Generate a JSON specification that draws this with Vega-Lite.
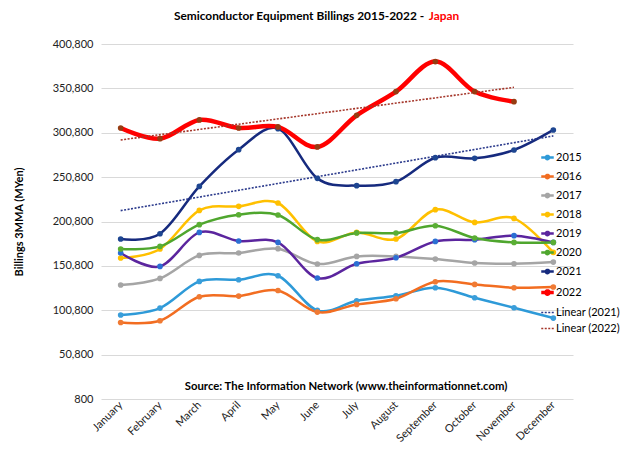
{
  "$schema": "https://vega.github.io/schema/vega-lite/v6.json",
  "width": 472,
  "height": 355,
  "autosize": "none",
  "padding": {"left": 101, "top": 44, "right": 67, "bottom": 65},
  "background": "white",
  "config": {"font": "Lato", "view": {"stroke": null}},
  "title": {
    "text": "Semiconductor Equipment Billings 2015-2022 -",
    "subtitle": "Japan",
    "anchor": "middle",
    "frame": "group",
    "fontSize": 11.9,
    "fontWeight": "bold",
    "color": "black",
    "subtitleFontSize": 11.9,
    "subtitleFontWeight": "bold",
    "subtitleColor": "#FF0000",
    "subtitlePadding": -11.9,
    "offset": 15,
    "encode": {
      "title": {"update": {"dx": {"value": -38}}},
      "subtitle": {"update": {"dx": {"value": 107}}}
    }
  },
  "data": {
    "values": [
      {"year": "2015", "m": 1, "value": 95400}, {"year": "2015", "m": 2, "value": 103250}, {"year": "2015", "m": 3, "value": 133300}, {"year": "2015", "m": 4, "value": 135200}, {"year": "2015", "m": 5, "value": 139700}, {"year": "2015", "m": 6, "value": 100600}, {"year": "2015", "m": 7, "value": 111500}, {"year": "2015", "m": 8, "value": 117150}, {"year": "2015", "m": 9, "value": 126150}, {"year": "2015", "m": 10, "value": 114900}, {"year": "2015", "m": 11, "value": 103600}, {"year": "2015", "m": 12, "value": 92000},
      {"year": "2016", "m": 1, "value": 87050}, {"year": "2016", "m": 2, "value": 88950}, {"year": "2016", "m": 3, "value": 116000}, {"year": "2016", "m": 4, "value": 116800}, {"year": "2016", "m": 5, "value": 123100}, {"year": "2016", "m": 6, "value": 98750}, {"year": "2016", "m": 7, "value": 107350}, {"year": "2016", "m": 8, "value": 113750}, {"year": "2016", "m": 9, "value": 132950}, {"year": "2016", "m": 10, "value": 129900}, {"year": "2016", "m": 11, "value": 126150}, {"year": "2016", "m": 12, "value": 126950},
      {"year": "2017", "m": 1, "value": 129200}, {"year": "2017", "m": 2, "value": 136650}, {"year": "2017", "m": 3, "value": 162600}, {"year": "2017", "m": 4, "value": 165300}, {"year": "2017", "m": 5, "value": 170150}, {"year": "2017", "m": 6, "value": 152900}, {"year": "2017", "m": 7, "value": 161450}, {"year": "2017", "m": 8, "value": 161450}, {"year": "2017", "m": 9, "value": 158500}, {"year": "2017", "m": 10, "value": 154000}, {"year": "2017", "m": 11, "value": 153200}, {"year": "2017", "m": 12, "value": 155100},
      {"year": "2018", "m": 1, "value": 159650}, {"year": "2018", "m": 2, "value": 169800}, {"year": "2018", "m": 3, "value": 213300}, {"year": "2018", "m": 4, "value": 217850}, {"year": "2018", "m": 5, "value": 221650}, {"year": "2018", "m": 6, "value": 178350}, {"year": "2018", "m": 7, "value": 188500}, {"year": "2018", "m": 8, "value": 181050}, {"year": "2018", "m": 9, "value": 214100}, {"year": "2018", "m": 10, "value": 199800}, {"year": "2018", "m": 11, "value": 204300}, {"year": "2018", "m": 12, "value": 165950},
      {"year": "2019", "m": 1, "value": 165300}, {"year": "2019", "m": 2, "value": 150200}, {"year": "2019", "m": 3, "value": 188500}, {"year": "2019", "m": 4, "value": 178800}, {"year": "2019", "m": 5, "value": 177250}, {"year": "2019", "m": 6, "value": 137100}, {"year": "2019", "m": 7, "value": 153200}, {"year": "2019", "m": 8, "value": 160000}, {"year": "2019", "m": 9, "value": 178350}, {"year": "2019", "m": 10, "value": 180300}, {"year": "2019", "m": 11, "value": 184800}, {"year": "2019", "m": 12, "value": 177250},
      {"year": "2020", "m": 1, "value": 169800}, {"year": "2020", "m": 2, "value": 172750}, {"year": "2020", "m": 3, "value": 197200}, {"year": "2020", "m": 4, "value": 208450}, {"year": "2020", "m": 5, "value": 208100}, {"year": "2020", "m": 6, "value": 180300}, {"year": "2020", "m": 7, "value": 187900}, {"year": "2020", "m": 8, "value": 187800}, {"year": "2020", "m": 9, "value": 196050}, {"year": "2020", "m": 10, "value": 182200}, {"year": "2020", "m": 11, "value": 177250}, {"year": "2020", "m": 12, "value": 177250},
      {"year": "2021", "m": 1, "value": 181050}, {"year": "2021", "m": 2, "value": 187050}, {"year": "2021", "m": 3, "value": 240350}, {"year": "2021", "m": 4, "value": 281750}, {"year": "2021", "m": 5, "value": 305400}, {"year": "2021", "m": 6, "value": 249400}, {"year": "2021", "m": 7, "value": 241150}, {"year": "2021", "m": 8, "value": 245650}, {"year": "2021", "m": 9, "value": 272700}, {"year": "2021", "m": 10, "value": 271950}, {"year": "2021", "m": 11, "value": 281400}, {"year": "2021", "m": 12, "value": 303950},
      {"year": "2022", "m": 1, "value": 306200}, {"year": "2022", "m": 2, "value": 294150}, {"year": "2022", "m": 3, "value": 315250}, {"year": "2022", "m": 4, "value": 306200}, {"year": "2022", "m": 5, "value": 307350}, {"year": "2022", "m": 6, "value": 284800}, {"year": "2022", "m": 7, "value": 320400}, {"year": "2022", "m": 8, "value": 347150}, {"year": "2022", "m": 9, "value": 381000}, {"year": "2022", "m": 10, "value": 347150}, {"year": "2022", "m": 11, "value": 335850}
    ]
  },
  "layer": [
    {
      "transform": [{"filter": "datum.year !== '2022'"}],
      "mark": {"type": "line", "interpolate": "cardinal", "strokeWidth": 2.5},
      "encoding": {
        "x": {
          "field": "m",
          "type": "quantitative",
          "scale": {"domain": [0.5, 12.5], "nice": false, "zero": false},
          "axis": {
            "title": null,
            "values": [1, 2, 3, 4, 5, 6, 7, 8, 9, 10, 11, 12],
            "labelExpr": "['January','February','March','April','May','June','July','August','September','October','November','December'][datum.value-1]",
            "labelAngle": -45,
            "labelAlign": "right",
            "labelBaseline": "middle",
            "labelOverlap": false,
            "labelFontSize": 11,
            "labelColor": "#222222",
            "labelPadding": 4,
            "grid": false,
            "ticks": false,
            "domain": false
          }
        },
        "y": {
          "field": "value",
          "type": "quantitative",
          "scale": {"domain": [800, 400800], "nice": false, "zero": false},
          "axis": {
            "title": "Billings 3MMA (MYen)",
            "titleFontSize": 11,
            "titleFontWeight": "bold",
            "titleColor": "black",
            "titlePadding": 28,
            "values": [800, 50800, 100800, 150800, 200800, 250800, 300800, 350800, 400800],
            "labelExpr": "format(datum.value, ',')",
            "labelFontSize": 11,
            "labelColor": "#222222",
            "labelPadding": 8,
            "domain": false,
            "ticks": false,
            "grid": true,
            "gridColor": "#D9D9D9",
            "gridWidth": 1
          }
        },
        "detail": {"field": "year", "type": "nominal"},
        "order": {"field": "m", "type": "quantitative"},
        "stroke": {
          "field": "year",
          "type": "nominal",
          "scale": {
            "domain": ["2015", "2016", "2017", "2018", "2019", "2020", "2021", "2022", "Linear (2021)", "Linear (2022)"],
            "range": ["#2E9AD8", "#F26D21", "#A5A5A5", "#FFC000", "#5B259E", "#4FA62E", "#162A7E", "#FF0000", "#2B3A8C", "#A5362A"]
          },
          "legend": {
            "title": null,
            "orient": "none",
            "legendX": 441,
            "legendY": 108,
            "labelFontSize": 11,
            "labelColor": "black",
            "symbolSize": 625,
            "symbolType": "M-0.5,0H0.5",
            "rowPadding": 4,
            "labelOffset": 3,
            "encode": {
              "symbols": {
                "update": {
                  "shape": {"signal": "test(/Linear/, datum.value) ? 'M-0.5,0H0.5' : 'M-0.5,0H0.5M-0.13,0A0.13,0.13 0 1,1 0.13,0A0.13,0.13 0 1,1 -0.13,0Z'"},
                  "strokeDash": {"signal": "test(/Linear/, datum.value) ? [2,1.5] : [1,0]"},
                  "strokeWidth": {"signal": "datum.value === '2022' ? 3.5 : (test(/Linear/, datum.value) ? 1.6 : 2.5)"},
                  "fill": {"signal": "test(/Linear/, datum.value) ? 'transparent' : scale('fill', datum.value)"},
                  "opacity": {"value": 1}
                }
              }
            }
          }
        }
      }
    },
    {
      "transform": [{"filter": "datum.year === '2022'"}],
      "mark": {"type": "line", "interpolate": "cardinal", "strokeWidth": 4.5},
      "encoding": {
        "x": {"field": "m", "type": "quantitative"},
        "y": {"field": "value", "type": "quantitative"},
        "order": {"field": "m", "type": "quantitative"},
        "stroke": {"field": "year", "type": "nominal"}
      }
    },
    {
      "transform": [{"filter": "datum.year === '2021'"}, {"regression": "value", "on": "m", "extent": [1, 12]}],
      "mark": {"type": "line", "strokeDash": [2, 1.5], "strokeWidth": 1.6},
      "encoding": {
        "x": {"field": "m", "type": "quantitative"},
        "y": {"field": "value", "type": "quantitative"},
        "stroke": {"datum": "Linear (2021)", "type": "nominal"}
      }
    },
    {
      "transform": [{"filter": "datum.year === '2022'"}, {"regression": "value", "on": "m", "extent": [1, 11]}],
      "mark": {"type": "line", "strokeDash": [2, 1.5], "strokeWidth": 1.6},
      "encoding": {
        "x": {"field": "m", "type": "quantitative"},
        "y": {"field": "value", "type": "quantitative"},
        "stroke": {"datum": "Linear (2022)", "type": "nominal"}
      }
    },
    {
      "mark": {"type": "point", "filled": true, "size": 32, "opacity": 1},
      "encoding": {
        "x": {"field": "m", "type": "quantitative"},
        "y": {"field": "value", "type": "quantitative"},
        "fill": {
          "field": "year",
          "type": "nominal",
          "scale": {
            "domain": ["2015", "2016", "2017", "2018", "2019", "2020", "2021", "2022"],
            "range": ["#3A9EDA", "#F07A33", "#A5A5A5", "#FFC000", "#2B6FD3", "#5AAE34", "#1E4691", "#963C12"]
          },
          "legend": null
        }
      }
    },
    {
      "data": {"values": [{"note": "Source: The Information Network (www.theinformationnet.com)"}]},
      "mark": {"type": "text", "fontSize": 11.3, "fontWeight": "bold", "fill": "black", "align": "center", "baseline": "middle"},
      "encoding": {
        "x": {"datum": 6.73, "type": "quantitative"},
        "y": {"datum": 14550, "type": "quantitative"},
        "text": {"field": "note", "type": "nominal"}
      }
    }
  ]
}
